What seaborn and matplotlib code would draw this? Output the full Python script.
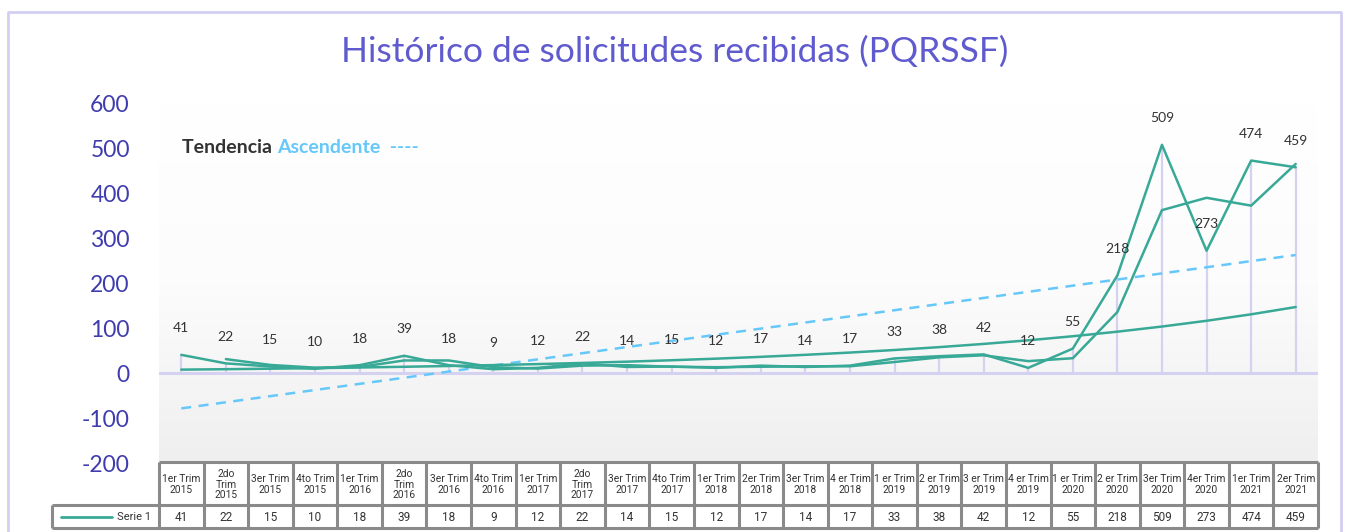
import numpy as np
import pandas as pd
import matplotlib
matplotlib.use("Agg")
import matplotlib.pyplot as plt
from matplotlib.colors import LinearSegmentedColormap
from matplotlib import font_manager
import seaborn as sns

# ---------------- data ----------------
categories = [
    "1er Trim\n2015", "2do\nTrim\n2015", "3er Trim\n2015", "4to Trim\n2015",
    "1er Trim\n2016", "2do\nTrim\n2016", "3er Trim\n2016", "4to Trim\n2016",
    "1er Trim\n2017", "2do\nTrim\n2017", "3er Trim\n2017", "4to Trim\n2017",
    "1er Trim\n2018", "2er Trim\n2018", "3er Trim\n2018", "4 er Trim\n2018",
    "1 er Trim\n2019", "2 er Trim\n2019", "3 er Trim\n2019", "4 er Trim\n2019",
    "1 er Trim\n2020", "2 er Trim\n2020", "3er Trim\n2020", "4er Trim\n2020",
    "1er Trim\n2021", "2er Trim\n2021",
]
serie1 = [41, 22, 15, 10, 18, 39, 18, 9, 12, 22, 14, 15, 12, 17, 14, 17,
          33, 38, 42, 12, 55, 218, 509, 273, 474, 459]
series_name = "Serie 1"
title = "Histórico de solicitudes recibidas (PQRSSF)"
yticks = [-200, -100, 0, 100, 200, 300, 400, 500, 600]
ytick_labels = ["-200", "-100", "0", "100", "200", "300", "400", "500", "600"]

# ---------------- derived (trendlines like Excel) ----------------
n = len(serie1)
xs = np.arange(n)
xe = xs + 1.0
yv = np.array(serie1, dtype=float)
lin_coef = np.polyfit(xe, yv, 1)
lin_trend = np.polyval(lin_coef, xe)
exp_coef = np.polyfit(xe, np.log(yv), 1)
exp_trend = np.exp(np.polyval(exp_coef, xe))
mov_avg = pd.Series(yv).rolling(2).mean()

df = pd.DataFrame({"x": xs, "y": yv, "lin": lin_trend, "exp": exp_trend, "ma": mov_avg})

# ---------------- styling ----------------
W, H = 1347, 532
DPI = 100
TEAL = "#38a996"
PURPLE_LINE = "#d5d1f1"
TITLE_C = "#5f5acd"
TICK_C = "#3f3cae"
DASH_C = "#66c8fa"
TABLE_C = "#8a8a8a"

sns.set_theme(style="white")
plt.rcParams["font.family"] = ["Lato", "DejaVu Sans"]

installed = {f.name for f in font_manager.fontManager.ttflist}
narrow = ["Liberation Sans Narrow"] if "Liberation Sans Narrow" in installed else ["Roboto"]

fig = plt.figure(figsize=(W / DPI, H / DPI), dpi=DPI)

def fx(px):
    return px / W

def fy(py):
    return 1 - py / H

ax_l, ax_r, ax_t, ax_b = 159, 1318, 104, 463
ax = fig.add_axes([fx(ax_l), fy(ax_b), fx(ax_r - ax_l), (ax_b - ax_t) / H])
ax.set_xlim(-0.5, n - 0.5)

# gradient background (white at top -> light grey at bottom)
grad = np.linspace(0, 1, 256).reshape(-1, 1)
cmap = LinearSegmentedColormap.from_list("bg", ["#ffffff", "#fcfcfc", "#efefef"])
ax.imshow(grad, extent=[-0.5, n - 0.5, -200, 600], aspect="auto", cmap=cmap,
          zorder=0, origin="upper")
ax.set_ylim(-200, 600)

# zero line and drop lines
ax.axhline(0, color=PURPLE_LINE, lw=2.2, zorder=1)
ax.vlines(xs, 0, yv, color=PURPLE_LINE, lw=1.6, zorder=1)

# lines
sns.lineplot(data=df, x="x", y="lin", ax=ax, color=DASH_C, lw=1.8,
             linestyle=(0, (4, 3)), zorder=3)
sns.lineplot(data=df, x="x", y="exp", ax=ax, color=TEAL, lw=1.8, zorder=3)
sns.lineplot(data=df.dropna(), x="x", y="ma", ax=ax, color=TEAL, lw=1.8, zorder=3)
sns.lineplot(data=df, x="x", y="y", ax=ax, color=TEAL, lw=1.8, zorder=4)

# data labels
for i, v in enumerate(serie1):
    ax.annotate(str(v), (i, v), xytext=(0, 19), textcoords="offset points",
                ha="center", va="center", fontsize=10, color="#333333", zorder=5)

ax.set_yticks(yticks)
ax.set_yticklabels(ytick_labels, color=TICK_C, fontsize=16.5)
ax.tick_params(axis="y", length=0, pad=21)
ax.set_xticks([])
ax.set_xlabel("")
ax.set_ylabel("")
for s in ax.spines.values():
    s.set_visible(False)

# title
fig.text(fx(675), fy(52), title, ha="center", va="center", fontsize=25.5,
         color=TITLE_C, fontweight="normal")

# trend annotation
t1 = fig.text(fx(182), fy(147), "Tendencia ", ha="left", va="center", fontsize=14,
              color="#333333", fontweight="bold")
fig.canvas.draw()
bb = t1.get_window_extent()
fig.text(bb.x1 / W, fy(147), "Ascendente  ----", ha="left", va="center", fontsize=14,
         color=DASH_C, fontweight="bold")

# outer border
border = fig.add_axes([0, 0, 1, 1], facecolor="none", zorder=-1)
border.set_xlim(0, W)
border.set_ylim(H, 0)
border.axis("off")
border.plot([8, 8, 1341, 1341], [H + 5, 12, 12, H + 5], color="#d3cff2", lw=2)

# ---------------- data table ----------------
tab = fig.add_axes([0, 0, 1, 1], facecolor="none")
tab.set_xlim(0, W)
tab.set_ylim(H, 0)
tab.axis("off")
colw = (ax_r - ax_l) / n
top, mid, bot = 462, 505, 528
left_lbl = 52
lk = dict(color=TABLE_C, lw=2.2, solid_capstyle="butt")
tab.plot([ax_l, ax_r], [top, top], **lk)
tab.plot([left_lbl, ax_r], [mid, mid], **lk)
tab.plot([left_lbl, ax_r], [bot, bot], **lk)
tab.plot([left_lbl, left_lbl], [mid, bot], **lk)
for k in range(n + 1):
    xk = ax_l + k * colw
    tab.plot([xk, xk], [top, bot], **lk)

hdr_texts = []
for i, (c, v) in enumerate(zip(categories, serie1)):
    xc = ax_l + (i + 0.5) * colw
    t = tab.text(xc, (top + mid) / 2 + 1, c, ha="center", va="center", fontsize=8,
                 color="#333333", family=narrow, linespacing=1.1)
    hdr_texts.append(t)
    tab.text(xc, (mid + bot) / 2 + 1, str(v), ha="center", va="center", fontsize=8.5,
             color="#333333", family=narrow)

# shrink header text if it would overflow a cell
fig.canvas.draw()
maxw = max(t.get_window_extent().width for t in hdr_texts)
if maxw > colw - 4:
    scale = (colw - 4) / maxw
    for t in hdr_texts:
        t.set_fontsize(8 * scale)

tab.plot([61, 112], [517, 517], color=TEAL, lw=2)
tab.text(151, 517, series_name, ha="right", va="center", fontsize=8,
         color="#333333", family=narrow)

fig.savefig("out.png", dpi=DPI)
